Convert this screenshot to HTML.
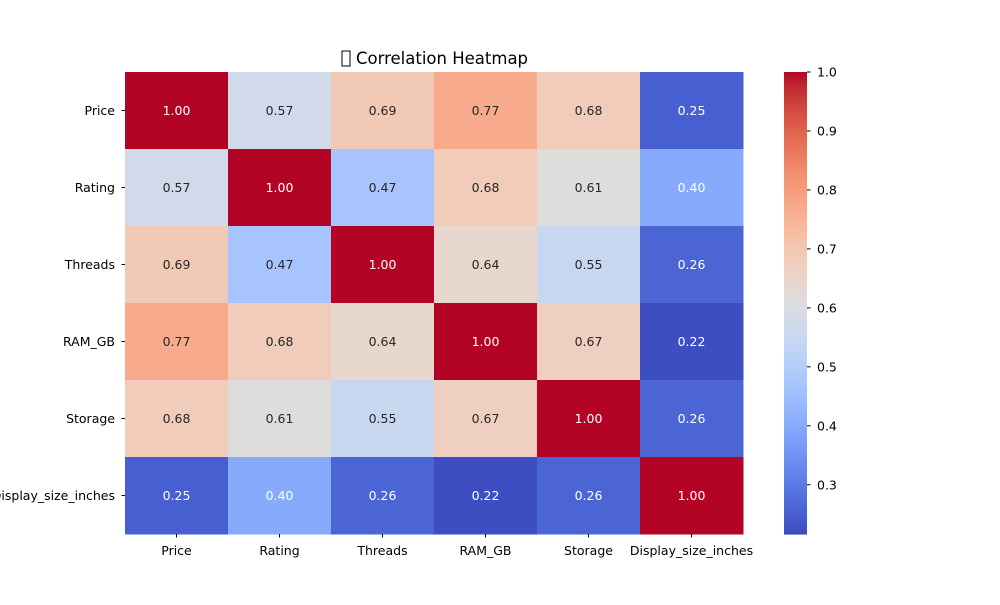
<!DOCTYPE html>
<html><head><meta charset="utf-8"><style>
body{margin:0;background:#fff}
svg text{font-family:"DejaVu Sans","Liberation Sans",sans-serif}
</style></head><body>
<svg id="chart" width="1000" height="600" xmlns="http://www.w3.org/2000/svg">
<rect x="342" y="51" width="8" height="15" fill="none" stroke="#000" stroke-width="1"/>
<text x="356" y="64" font-size="16.5">Correlation Heatmap</text>
<g id="cells"></g><g id="labels"></g><g id="cbar"></g>
</svg>
<script>
const categories=["Price","Rating","Threads","RAM_GB","Storage","Display_size_inches"];
const row0=[1.00,0.57,0.69,0.77,0.68,0.25];
const row1=[0.57,1.00,0.47,0.68,0.61,0.40];
const row2=[0.69,0.47,1.00,0.64,0.55,0.26];
const row3=[0.77,0.68,0.64,1.00,0.67,0.22];
const row4=[0.68,0.61,0.55,0.67,1.00,0.26];
const row5=[0.25,0.40,0.26,0.22,0.26,1.00];
const matrix=[row0,row1,row2,row3,row4,row5];
const cbarTicks=[0.3,0.4,0.5,0.6,0.7,0.8,0.9,1.0];
const vmin=0.2165,vmax=1.0;
const CM=[[59,76,192],[68,90,204],[77,104,215],[87,117,225],[98,130,234],[108,142,241],[119,154,247],[130,165,251],[141,176,254],[152,185,255],[163,194,255],[174,201,253],[184,208,249],[194,213,244],[204,217,238],[213,219,230],[221,221,221],[229,216,209],[236,211,197],[241,204,185],[245,196,173],[247,187,160],[247,177,148],[247,166,135],[244,154,123],[241,141,111],[236,127,99],[229,112,88],[222,96,77],[213,80,66],[203,62,56],[192,40,47],[180,4,38]];
function cmap(t){t=Math.max(0,Math.min(1,t));const p=t*32,i=Math.min(31,Math.floor(p)),f=p-i;return CM[i].map((c,k)=>c+(CM[i+1][k]-c)*f);}
function lum(c){const l=c.map(v=>{v/=255;return v<=0.03928?v/12.92:Math.pow((v+0.055)/1.055,2.4)});return 0.2126*l[0]+0.7152*l[1]+0.0722*l[2];}
const X0=125,Y0=72,W=618,H=462,n=categories.length,cw=W/n,ch=H/n;
const xs=i=>X0+i*cw, ys=j=>Y0+j*ch;
const NS="http://www.w3.org/2000/svg";
function mk(tag,attrs,parent){const e=document.createElementNS(NS,tag);for(const k in attrs)e.setAttribute(k,attrs[k]);parent.appendChild(e);return e;}
const cells=document.getElementById('cells'),labels=document.getElementById('labels'),cb=document.getElementById('cbar');
matrix.forEach((row,j)=>row.forEach((v,i)=>{
 const c=cmap((v-vmin)/(vmax-vmin));
 const r=mk('rect',{x:xs(i),y:ys(j),width:cw+0.5,height:ch+0.5,fill:`rgb(${c.map(Math.round).join(',')})`},cells);
 
 
 const t=mk('text',{x:xs(i)+cw/2,y:ys(j)+ch/2+4.5,'text-anchor':'middle','font-size':'12.5',fill:lum(c)>0.5?'#262626':'#ffffff'},cells);
 t.textContent=v.toFixed(2);
 
 
}));
categories.forEach((c,i)=>{
 const t=mk('text',{x:xs(i)+cw/2,y:555,'text-anchor':'middle','font-size':'12.5'},labels);
 t.textContent=c;
 
 
 mk('line',{x1:xs(i)+cw/2,x2:xs(i)+cw/2,y1:534,y2:537.5,stroke:'#000'},labels);
 const u=mk('text',{x:115,y:ys(i)+ch/2+4.5,'text-anchor':'end','font-size':'12.5'},labels);
 u.textContent=c;
 
 
 mk('line',{x1:121.5,x2:125,y1:ys(i)+ch/2,y2:ys(i)+ch/2,stroke:'#000'},labels);
});
const CX=784,CW=23,steps=200;
const cy=v=>Y0+H*(vmax-v)/(vmax-vmin);
for(let s=0;s<steps;s++){
 const v=vmin+(vmax-vmin)*s/steps,c=cmap(s/steps);
 const r=mk('rect',{x:CX,y:cy(v+(vmax-vmin)/steps),width:CW,height:H/steps+0.6,fill:`rgb(${c.map(Math.round).join(',')})`},cb);
 
 
}
cbarTicks.forEach(v=>{
 mk('line',{x1:CX+CW,x2:CX+CW+3.5,y1:cy(v),y2:cy(v),stroke:'#000'},cb);
 const t=mk('text',{x:CX+CW+10,y:cy(v)+4.5,'font-size':'12.5'},cb);
 t.textContent=v.toFixed(1);
 
 
});
</script>
</body></html>
